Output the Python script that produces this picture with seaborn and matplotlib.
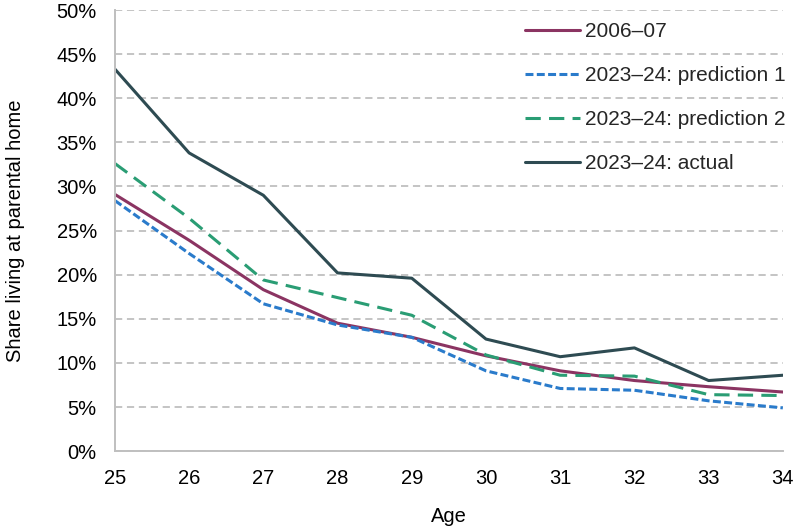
import matplotlib
matplotlib.use("Agg")
import matplotlib.pyplot as plt
import seaborn as sns
import pandas as pd
from matplotlib.ticker import FuncFormatter

ages = [25, 26, 27, 28, 29, 30, 31, 32, 33, 34]
s_2006 = [29.1, 23.9, 18.3, 14.5, 12.9, 10.8, 9.1, 8.0, 7.3, 6.7]
s_pred1 = [28.4, 22.4, 16.7, 14.3, 12.9, 9.1, 7.1, 6.9, 5.7, 4.9]
s_pred2 = [32.6, 26.4, 19.4, 17.4, 15.4, 10.9, 8.6, 8.5, 6.4, 6.3]
s_actual = [43.3, 33.8, 29.0, 20.2, 19.6, 12.7, 10.7, 11.7, 8.0, 8.6]
series_names = ["2006–07", "2023–24: prediction 1", "2023–24: prediction 2", "2023–24: actual"]

sns.set_theme(style="white")
plt.rcParams['font.family'] = ['Liberation Sans', 'DejaVu Sans']

df = pd.DataFrame({"Age": ages * 4,
                   "value": s_2006 + s_pred1 + s_pred2 + s_actual,
                   "series": sum([[n] * len(ages) for n in series_names], [])})

colors = {series_names[0]: "#8B3462", series_names[1]: "#2A7BCB",
          series_names[2]: "#2A9D74", series_names[3]: "#2E4B52"}
dashes = {series_names[0]: "", series_names[1]: (2.6, 1.1),
          series_names[2]: (5, 2.7), series_names[3]: ""}

FS = 14.5
fig = plt.figure(figsize=(7.98, 5.27), dpi=100)
ax = fig.add_axes([0.144, 0.144, 0.837, 0.837])
sns.lineplot(data=df, x="Age", y="value", hue="series", style="series",
             palette=colors, dashes=dashes, linewidth=2.2, ax=ax)

ax.set_xlim(25, 34)
ax.set_ylim(0, 50)
ax.set_xticks(ages)
ax.set_yticks(range(0, 51, 5))
ax.yaxis.set_major_formatter(FuncFormatter(lambda v, p: f"{int(v)}%"))
ax.yaxis.grid(True, linestyle=(0, (4, 2.6)), color="#BFBFBF", linewidth=1.3)
ax.set_axisbelow(True)
for sp in ["top", "right"]:
    ax.spines[sp].set_visible(False)
for sp in ["left", "bottom"]:
    ax.spines[sp].set_color("#BFBFBF")
    ax.spines[sp].set_linewidth(1.4)
ax.tick_params(axis="both", which="both", direction="out", length=3.6, width=1.3,
               color="#BFBFBF", labelsize=FS, labelcolor="#000000")
ax.tick_params(axis="y", pad=9.4)
ax.tick_params(axis="x", pad=9.5)
ax.set_xlabel("Age", fontsize=FS, color="#000000")
ax.set_ylabel("Share living at parental home", fontsize=FS, color="#000000")
ax.yaxis.set_label_coords(-0.1347, 0.5)
ax.xaxis.set_label_coords(0.5, -0.127)

leg = ax.legend(loc="upper left", bbox_to_anchor=(525 / 798, 1 - 22 / 527),
                bbox_transform=fig.transFigure, frameon=False, borderpad=0,
                borderaxespad=0, fontsize=15, handlelength=2.65,
                labelspacing=1.2, handletextpad=0.25)
for h in leg.get_lines():
    h.set_linewidth(2.2)

fig.savefig("out.png", dpi=100)
